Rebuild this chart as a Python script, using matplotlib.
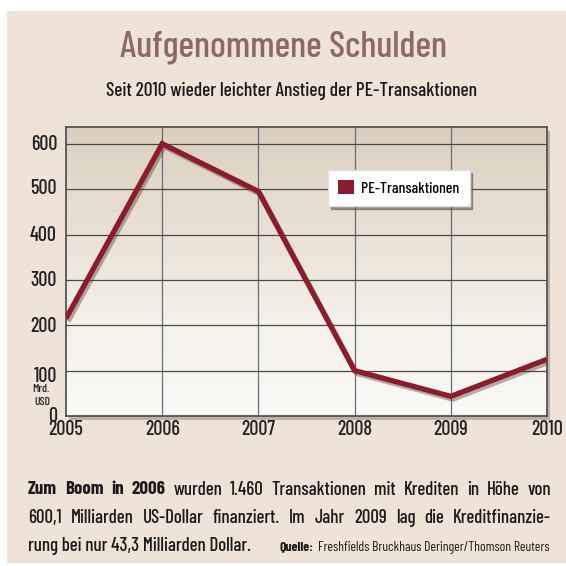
import matplotlib
matplotlib.use("Agg")
import matplotlib.pyplot as plt
import matplotlib.patheffects as pe
from matplotlib.patches import Rectangle
from matplotlib.colors import LinearSegmentedColormap
import numpy as np

years = [2005, 2006, 2007, 2008, 2009, 2010]
values = [215, 600.1, 495, 100, 43.3, 125]
yticks = [0, 100, 200, 300, 400, 500, 600]
series_name = "PE-Transaktionen"
title = "Aufgenommene Schulden"
subtitle = "Seit 2010 wieder leichter Anstieg der PE-Transaktionen"
note_line1 = [("Zum", True), ("Boom", True), ("in", True), ("2006", True), ("wurden", False),
              ("1.460", False), ("Transaktionen", False), ("mit", False), ("Krediten", False),
              ("in", False), ("Höhe", False), ("von", False)]
note_line2 = "600,1 Milliarden US-Dollar finanziert. Im Jahr 2009 lag die Kreditfinanzie-"
note_line3 = "rung bei nur 43,3 Milliarden Dollar."
source_label = "Quelle:"
source_text = "Freshfields Bruckhaus Deringer/Thomson Reuters"

FONT = "Barlow Condensed"
plt.rcParams['font.family'] = [FONT, 'DejaVu Sans']

W = H = 566
fig = plt.figure(figsize=(W/100, H/100), dpi=100)
fig.patch.set_facecolor('white')
renderer = fig.canvas.get_renderer()

def fx(x):
    return x / W

def fy(y):
    return 1 - y / H

def width_of(t):
    return t.get_window_extent(renderer).width

def fit_text(s, x0, x1, y, ha='left', weight='medium', color='#1a1a1a', size0=12):
    t = fig.text(fx(x0), fy(y), s, ha='left', va='center', fontsize=size0,
                 fontweight=weight, color=color)
    w = width_of(t)
    t.set_fontsize(size0 * (x1 - x0) / w)
    if ha == 'center':
        t.set_x(fx((x0 + x1) / 2)); t.set_ha('center')
    return t

# beige panel
fig.patches.append(Rectangle((fx(7), fy(563)), 1, (563 - 11) / H, transform=fig.transFigure,
                             facecolor='#efe2d7', edgecolor='none', zorder=-10))

L, T, R, B = 66, 127, 547, 416
fig.patches.append(Rectangle((fx(L + 3), fy(B + 4)), (R - L) / W, (B - T) / H,
                             transform=fig.transFigure, facecolor='#9a9088',
                             edgecolor='none', alpha=0.6, zorder=-5))

ax = fig.add_axes([fx(L), fy(B), (R - L) / W, (B - T) / H])
grad = np.linspace(0, 1, 256)[:, None]
cmap = LinearSegmentedColormap.from_list('bg', ['#dbd0be', '#e8e0d2', '#f4f0ea', '#fbfaf7'])
ax.imshow(grad, extent=[0, 1, 0, 1], transform=ax.transAxes, cmap=cmap,
          aspect='auto', origin='upper', zorder=0)

ax.set_xlim(years[0], years[-1])
ax.set_ylim(0, 637)
for x in years[1:-1]:
    ax.axvline(x, color='#627078', lw=0.9, zorder=1)
for y in yticks[1:]:
    ax.axhline(y, color='#4a4a4a', lw=0.9, zorder=1)

ax.plot(years, values, color='#8c1b2b', lw=3.8, solid_joinstyle='miter',
        solid_capstyle='butt', zorder=3, label=series_name,
        path_effects=[pe.SimpleLineShadow(offset=(1.5, -2), shadow_color='#4a3a30', alpha=0.4),
                      pe.Normal()])

for s in ax.spines.values():
    s.set_color('#4a4a4a')
    s.set_linewidth(1.2)
ax.set_xticks([])
ax.set_yticks([])

tick_fs = 14.5
label_y = {600: 144, 500: 189, 400: 235, 300: 281, 200: 326, 100: 377, 0: 416}
for v in yticks:
    fig.text(fx(57), fy(label_y[v]), str(v), ha='right', va='center',
             fontsize=tick_fs, fontweight='medium', color='#222222')
fig.text(fx(50), fy(389), "Mrd.", ha='right', va='center', fontsize=8.5, fontweight='medium',
         color='#222222')
fig.text(fx(50), fy(402), "USD", ha='right', va='center', fontsize=8.5, fontweight='medium',
         color='#222222')

for yr in years:
    ax.text(yr, -0.048, str(yr), transform=ax.get_xaxis_transform(), ha='center', va='center',
            fontsize=tick_fs, fontweight='medium', color='#222222')

leg = ax.legend(handles=[Rectangle((0, 0), 1, 1, facecolor='#8c1b2b', edgecolor='none')],
                labels=[series_name], loc='upper left', bbox_to_anchor=(0.545, 0.851),
                borderaxespad=0, frameon=True, fancybox=False, shadow=True,
                prop={'size': 11.3, 'weight': 'medium'},
                handlelength=1.0, handleheight=1.0, borderpad=0.65, handletextpad=0.45)
leg.get_frame().set_facecolor('white')
leg.get_frame().set_edgecolor('#e0e0e0')

fit_text(title, 120, 447, 47, ha='center', color='#8b6b5f', size0=26)
fit_text(subtitle, 105, 478, 91, ha='center', color='#1a1a1a', size0=12)

# bottom notes
X0, X1 = 28, 551
t3 = fit_text(note_line3, X0, 252, 546, size0=13)
fs = t3.get_fontsize()

def justify(words, y):
    texts = []
    for w, bold in words:
        texts.append(fig.text(0, fy(y), w, ha='left', va='center', fontsize=fs,
                              fontweight='bold' if bold else 'medium', color='#1a1a1a'))
    widths = [width_of(t) for t in texts]
    gap = (X1 - X0 - sum(widths)) / (len(texts) - 1)
    x = X0
    for t, w in zip(texts, widths):
        t.set_x(fx(x))
        x += w + gap

justify(note_line1, 490)
justify([(w, False) for w in note_line2.split(" ")], 518)

fit_text(source_label, 280, 314, 547, weight='bold', size0=9)
fit_text(source_text, 318, 551, 547, weight='normal', size0=9)

fig.savefig("out.png", dpi=100, facecolor=fig.get_facecolor())
